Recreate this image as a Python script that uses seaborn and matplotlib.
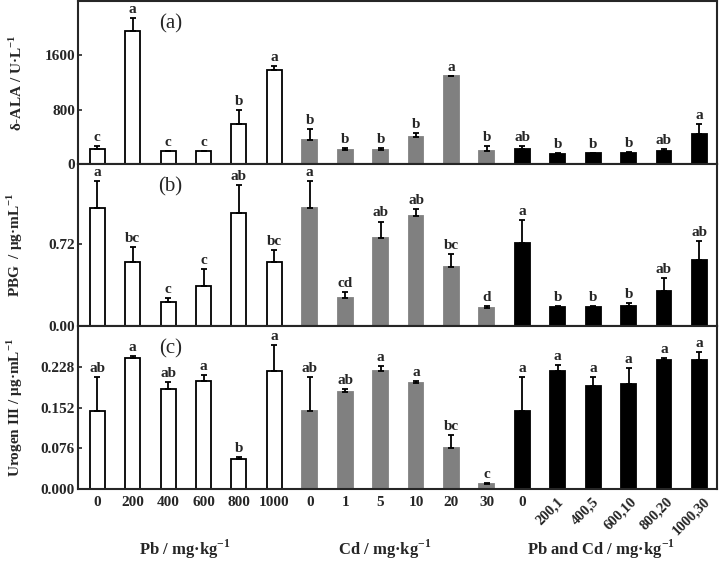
import numpy as np
import pandas as pd
import seaborn as sns
import matplotlib.pyplot as plt

# treatments
groups = ["Pb"] * 6 + ["Cd"] * 6 + ["PbCd"] * 6
tick_labels = ["0", "200", "400", "600", "800", "1000",
               "0", "1", "5", "10", "20", "30",
               "0", "200,1", "400,5", "600,10", "800,20", "1000,30"]

# (a) delta-ALA
ala = [222, 1956, 193, 193, 593, 1388, 356, 212, 212, 395, 1293, 193, 227, 153, 163, 167, 188, 440]
ala_sd = [49, 192, 4, 4, 207, 53, 158, 20, 29, 60, 7, 74, 44, 7, 2, 5, 39, 153]
ala_sig = ["c", "a", "c", "c", "b", "a", "b", "b", "b", "b", "a", "b", "ab", "b", "b", "b", "ab", "a"]

# (b) PBG
pbg = [1.033, 0.565, 0.213, 0.354, 0.989, 0.559, 1.033, 0.249, 0.775, 0.960, 0.521, 0.155,
       0.726, 0.164, 0.170, 0.176, 0.310, 0.579]
pbg_sd = [0.234, 0.131, 0.036, 0.146, 0.243, 0.108, 0.234, 0.052, 0.141, 0.064, 0.108, 0.021,
          0.205, 0.012, 0.004, 0.029, 0.109, 0.167]
pbg_sig = ["a", "bc", "c", "c", "ab", "bc", "a", "cd", "ab", "ab", "bc", "d", "a", "b", "b", "b", "ab", "ab"]

# (c) Urogen III
uro = [0.145, 0.244, 0.186, 0.201, 0.056, 0.220, 0.145, 0.180, 0.221, 0.197, 0.077, 0.0088,
       0.145, 0.220, 0.192, 0.195, 0.240, 0.240]
uro_sd = [0.063, 0.004, 0.014, 0.012, 0.003, 0.048, 0.063, 0.006, 0.008, 0.004, 0.024, 0.002,
          0.063, 0.011, 0.017, 0.030, 0.004, 0.016]
uro_sig = ["ab", "a", "ab", "a", "b", "a", "ab", "ab", "a", "a", "bc", "c", "a", "a", "a", "a", "a", "a"]

sns.set_style("ticks")
plt.rcParams['font.family'] = ['Liberation Serif', 'DejaVu Serif']
plt.rcParams['font.weight'] = 'bold'
plt.rcParams['mathtext.fontset'] = 'custom'
plt.rcParams['mathtext.rm'] = 'Liberation Serif:bold'
plt.rcParams['mathtext.bf'] = 'Liberation Serif:bold'
plt.rcParams['axes.linewidth'] = 1.5

palette = {"Pb": "white", "Cd": "#808080", "PbCd": "black"}

panels = [
    (ala, ala_sd, ala_sig, 2400, [0, 800, 1600], "{:.0f}", r"δ-ALA / U·L$^{-1}$", "(a)"),
    (pbg, pbg_sd, pbg_sig, 1.42, [0, 0.72], "{:.2f}", r"PBG  / μg·mL$^{-1}$", "(b)"),
    (uro, uro_sd, uro_sig, 0.304, [0, 0.076, 0.152, 0.228], "{:.3f}", r"Urogen III / μg·mL$^{-1}$", "(c)"),
]

fig = plt.figure(figsize=(7.2, 5.65), dpi=100)
axes_pos = [[0.108, 0.7097, 0.888, 0.2885],
            [0.108, 0.4230, 0.888, 0.2867],
            [0.108, 0.1345, 0.888, 0.2885]]

x = np.arange(len(groups))
keys = [f"{g}_{t}" for g, t in zip(groups, tick_labels)]

for k, (vals, sd, sig, ytop, yticks, fmt, ylabel, tag) in enumerate(panels):
    ax = fig.add_axes(axes_pos[k])
    df = pd.DataFrame({"treat": keys, "value": vals, "group": groups})
    sns.barplot(data=df, x="treat", y="value", hue="group", palette=palette,
                order=keys, legend=False, width=0.42, errorbar=None,
                edgecolor="black", linewidth=1.3, ax=ax)
    for p, g in zip(ax.patches, groups):
        if g == "Cd":
            p.set_edgecolor("#808080")
    ax.errorbar(x, vals, yerr=[np.zeros(len(vals)), sd], fmt="none",
                ecolor="black", elinewidth=1.3, capsize=2, capthick=1.3)
    for i, (v, s, t) in enumerate(zip(vals, sd, sig)):
        ax.annotate(t, (i, v + s), xytext=(0, 1.5), textcoords="offset points",
                    ha="center", va="bottom", fontsize=11, fontweight="bold")

    ax.set_xlim(-0.55, 17.5)
    ax.set_ylim(0, ytop)
    ax.set_yticks(yticks)
    ax.set_yticklabels([fmt.format(v) for v in yticks], fontsize=11, fontweight="bold")
    ax.tick_params(direction="in", length=3, width=1.2, pad=2)
    ax.set_ylabel(ylabel, fontsize=11, fontweight="bold")
    ax.yaxis.set_label_coords(-0.083, 0.5)
    ax.set_xlabel("")
    ax.text(0.145, 0.86, tag, transform=ax.transAxes, fontsize=15,
            fontweight="normal", ha="center", va="center")

    ax.set_xticks(x)
    if k < 2:
        ax.set_xticklabels([])
    else:
        # last five Pb+Cd labels are slanted, drawn separately
        ax.set_xticklabels(tick_labels[:13] + [""] * 5, fontsize=11, fontweight="bold")
        ax.tick_params(axis="x", pad=5)
        for i in range(13, 18):
            ax.text(i - 0.22, -0.035, tick_labels[i], transform=ax.get_xaxis_transform(),
                    rotation=45, ha="center", va="top", fontsize=10.5, fontweight="bold")

fig.text(0.257, 0.018, r"Pb / mg·kg$^{-1}$", fontsize=12, fontweight="bold", ha="center")
fig.text(0.535, 0.018, r"Cd / mg·kg$^{-1}$", fontsize=12, fontweight="bold", ha="center")
fig.text(0.835, 0.018, r"Pb and Cd / mg·kg$^{-1}$", fontsize=12, fontweight="bold", ha="center")

plt.savefig("out.png", dpi=100)
